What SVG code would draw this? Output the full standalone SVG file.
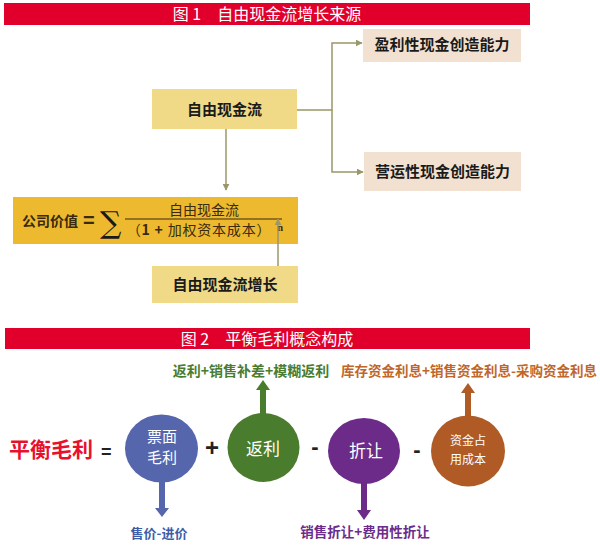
<svg xmlns="http://www.w3.org/2000/svg" width="600" height="557" viewBox="0 0 600 557">
<defs>
<marker id="ah" viewBox="0 0 10 10" refX="9" refY="5" markerWidth="7" markerHeight="7" markerUnits="userSpaceOnUse" orient="auto"><path d="M0,0 L10,5 L0,10 z" fill="#9a9868"/></marker>
</defs>
<style>
.t{font-family:"Noto Sans CJK SC","Noto Sans CJK JP",sans-serif;}
.ban{fill:#e0002b;}
.bt{fill:#fff;font-size:16px;}
.bx{font-weight:bold;font-size:15px;fill:#1a1a1a;}
.beige{fill:#f2e1d0;}
.yel{fill:#f0da88;}
.conn{stroke:#9a9868;stroke-width:1.5;fill:none;}
.ct{fill:#fff;}
</style>
<rect width="600" height="557" fill="#fff"/>

<g id="banner1">
<rect class="ban" x="4" y="3" width="526" height="22"/>
<text class="t bt" x="267" y="20" text-anchor="middle" xml:space="preserve">图 1　自由现金流增长来源</text>
</g>

<g id="node-fcf">
<rect class="yel" x="152" y="89" width="145" height="40"/>
<text class="t bx" x="224.5" y="115" text-anchor="middle">自由现金流</text>
</g>
<g id="node-profit">
<rect class="beige" x="363" y="29" width="158" height="33"/>
<text class="t bx" x="442" y="50" text-anchor="middle">盈利性现金创造能力</text>
</g>
<g id="node-operate">
<rect class="beige" x="364" y="152" width="157" height="39"/>
<text class="t bx" x="442.5" y="177" text-anchor="middle">营运性现金创造能力</text>
</g>
<g id="node-formula">
<rect x="13" y="197" width="285" height="47" fill="#edb92e"/>
<text class="t" x="22" y="226" font-size="14" font-weight="bold" fill="#3a2a10">公司价值</text>
<text x="83" y="227" font-family="Liberation Sans,sans-serif" font-size="20" font-weight="bold" fill="#3a2a10">=</text>
<text x="100" y="233" font-family="DejaVu Serif,serif" font-size="30" fill="#1a1a1a">∑</text>
<line x1="125" y1="219" x2="282" y2="219" stroke="#3a2a10" stroke-width="1.2"/>
<text class="t" x="204" y="215" font-size="14" fill="#3a2a10" text-anchor="middle">自由现金流</text>
<text class="t" x="199" y="235" font-size="14" fill="#3a2a10" text-anchor="middle" letter-spacing="0.8">（<tspan font-weight="bold">1 + </tspan>加权资本成本）</text>
<text x="277" y="231" font-family="Liberation Serif,serif" font-size="11" font-weight="bold" fill="#3a2a10">n</text>
</g>
<g id="node-growth">
<rect class="yel" x="152" y="266" width="146" height="37"/>
<text class="t bx" x="225" y="290" text-anchor="middle">自由现金流增长</text>
</g>

<g id="connectors1">
<path class="conn" d="M297,110 H332 V43 H362" marker-end="url(#ah)"/>
<path class="conn" d="M332,110 V172 H363" marker-end="url(#ah)"/>
<path class="conn" d="M226,129 V190" marker-end="url(#ah)"/>
<path class="conn" d="M278,266 V219" marker-end="url(#ah)"/>
</g>

<g id="banner2">
<rect class="ban" x="5" y="328" width="525" height="21"/>
<text class="t bt" x="267" y="345" text-anchor="middle" font-size="17" xml:space="preserve">图 2　平衡毛利概念构成</text>
</g>

<g id="label-rebate">
<text class="t" x="251" y="376" text-anchor="middle" font-size="14" font-weight="bold" fill="#4a7c30">返利+销售补差+模糊返利</text>
</g>
<g id="label-capital">
<text class="t" x="469" y="376" text-anchor="middle" font-size="13.5" font-weight="bold" fill="#c0662a">库存资金利息+销售资金利息-采购资金利息</text>
</g>

<g id="label-main">
<text class="t" x="9" y="457" font-size="21" font-weight="bold" fill="#e8112d">平衡毛利</text>
<text x="101" y="458" font-family="Liberation Sans,sans-serif" font-size="18" font-weight="bold" fill="#222">=</text>
<text x="212" y="456" font-family="Liberation Sans,sans-serif" font-size="24" font-weight="bold" fill="#222" text-anchor="middle">+</text>
<text x="315" y="454" font-family="Liberation Sans,sans-serif" font-size="22" font-weight="bold" fill="#222" text-anchor="middle">-</text>
<text x="417" y="457" font-family="Liberation Sans,sans-serif" font-size="22" font-weight="bold" fill="#222" text-anchor="middle">-</text>
</g>

<g id="connectors2">
<path d="M159,478 H165 V508 H169 L162,517 L155,508 H159 Z" fill="#5566ad"/>
<path d="M260,415 V390 H256 L263,380 L270,390 H266 V415 Z" fill="#4a7c2e"/>
<path d="M361,480 H367 V510 H371 L364,520 L357,510 H361 Z" fill="#6c2b88"/>
<path d="M465,418 V393 H461 L468,383 L475,393 H471 V418 Z" fill="#b05a25"/>
</g>

<g id="node-ticket">
<ellipse cx="161.5" cy="448.5" rx="36.5" ry="34" fill="#5566ad"/>
<text class="t ct" x="162" y="442" text-anchor="middle" font-size="15">票面</text>
<text class="t ct" x="162" y="463" text-anchor="middle" font-size="15">毛利</text>
</g>
<g id="node-rebate">
<ellipse cx="263.5" cy="447.5" rx="36" ry="34.5" fill="#4a7c2e"/>
<text class="t ct" x="263" y="455" text-anchor="middle" font-size="17">返利</text>
</g>
<g id="node-discount">
<ellipse cx="364" cy="451" rx="36" ry="33" fill="#6c2b88"/>
<text class="t ct" x="366" y="457" text-anchor="middle" font-size="17">折让</text>
</g>
<g id="node-capital">
<ellipse cx="468" cy="451" rx="37" ry="35.5" fill="#b05a25"/>
<text class="t ct" x="468" y="445" text-anchor="middle" font-size="12">资金占</text>
<text class="t ct" x="468" y="464" text-anchor="middle" font-size="12">用成本</text>
</g>

<g id="label-price">
<text class="t" x="159" y="538" text-anchor="middle" font-size="13" font-weight="bold" fill="#3a5ea8">售价-进价</text>
</g>
<g id="label-disc">
<text class="t" x="365" y="537" text-anchor="middle" font-size="13.5" font-weight="bold" fill="#6b2c8a">销售折让+费用性折让</text>
</g>
</svg>
